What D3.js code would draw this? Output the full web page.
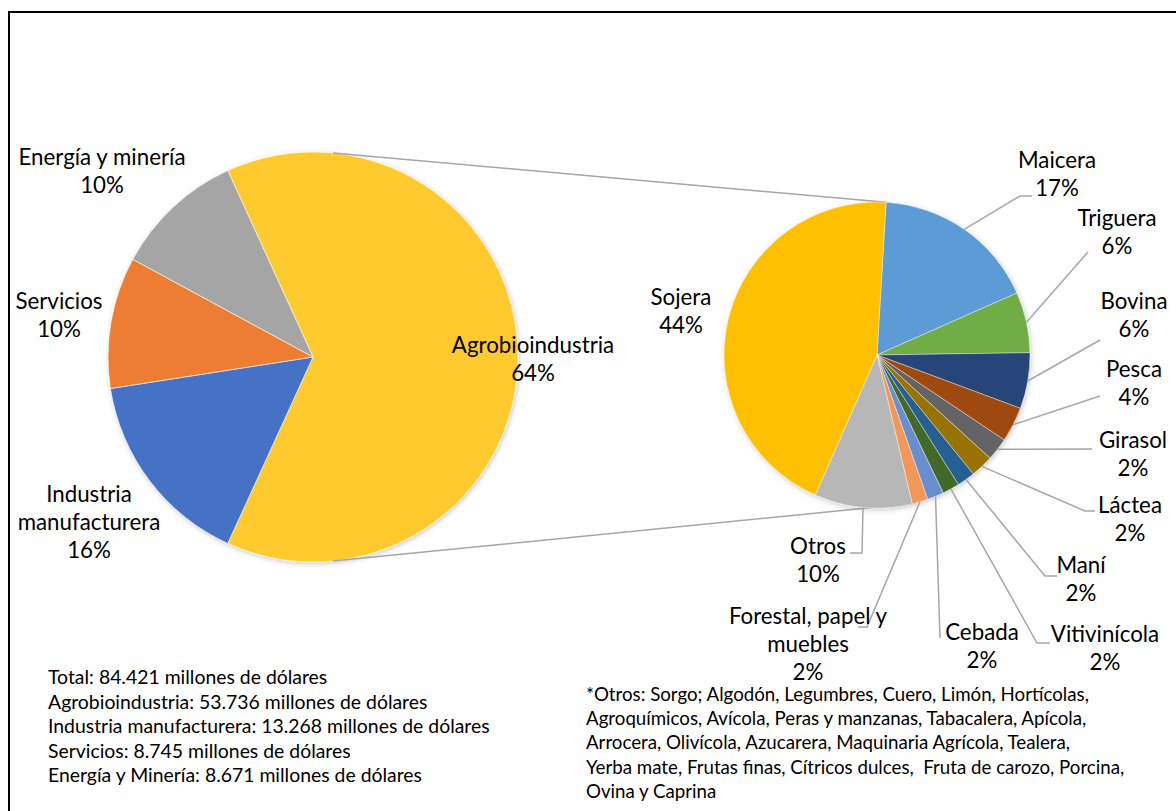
<!DOCTYPE html>
<html>
<head>
<meta charset="utf-8">
<script src="https://cdn.jsdelivr.net/npm/d3@7"></script>
<style>
  body { margin: 0; background: #fff; }
  text { font-family: Lato, "Open Sans", sans-serif; fill: #000; }
</style>
</head>
<body>
<script>
var width = 1176;
var height = 811;

// main pie
var mainCategories = ["Agrobioindustria", "Industria manufacturera", "Servicios", "Energía y minería"];
var mainValues = [53736, 13268, 8745, 8671];
var mainColors = ["#FFCA2F", "#4472C4", "#ED7D31", "#A5A5A5"];

// agrobioindustria breakdown
var subCategories = ["Maicera", "Triguera", "Bovina", "Pesca", "Girasol", "Láctea", "Maní",
                     "Vitivinícola", "Cebada", "Forestal, papel y muebles", "Otros", "Sojera"];
var subValues = [17.4, 6.4, 5.9, 3.7, 2.4, 2.4, 1.9, 1.8, 1.75, 1.67, 10.3, 44.3];
var subColors = ["#5B9BD5", "#70AD47", "#264478", "#9E480E", "#636363", "#997300", "#255E91",
                 "#43682B", "#698ED0", "#F1975A", "#B7B7B7", "#FFC000"];

var totalsText = [
  "Total: 84.421 millones de dólares",
  "Agrobioindustria: 53.736 millones de dólares",
  "Industria manufacturera: 13.268 millones de dólares",
  "Servicios: 8.745 millones de dólares",
  "Energía y Minería: 8.671 millones de dólares"
];
var noteText = [
  "*Otros: Sorgo; Algodón, Legumbres, Cuero, Limón, Hortícolas,",
  "Agroquímicos, Avícola, Peras y manzanas, Tabacalera, Apícola,",
  "Arrocera, Olivícola, Azucarera, Maquinaria Agrícola, Tealera,",
  "Yerba mate, Frutas finas, Cítricos dulces,  Fruta de carozo, Porcina,",
  "Ovina y Caprina"
];

// layout
var deg = Math.PI / 180;
var left = { cx: 313, cy: 357, r: 205 };
var right = { cx: 877, cy: 355, r: 153 };

// label lines: [x, y] of first line baseline, line names
var mainLabelPos = [[533, 353], [89, 502], [59, 309], [102, 165]];
var mainLabelLines = [["Agrobioindustria"], ["Industria", "manufacturera"], ["Servicios"], ["Energía y minería"]];

var subLabelPos = [[1057, 168], [1117, 226], [1134, 309], [1134, 377], [1133, 448], [1130, 513],
                   [1081, 573], [1105, 642], [982, 640], [808, 624], [818, 554], [681, 305]];
var subLabelLines = [["Maicera"], ["Triguera"], ["Bovina"], ["Pesca"], ["Girasol"], ["Láctea"], ["Maní"],
                     ["Vitivinícola"], ["Cebada"], ["Forestal, papel y", "muebles"], ["Otros"], ["Sojera"]];
// leader ends (null = no leader)
var subLeaders = [
  [[1020, 196], [1032, 196]],
  [[1088, 252]],
  [[1100, 340]],
  [[1100, 396]],
  [[1092, 449]],
  [[1085, 511], [1095, 511]],
  [[1045, 576], [1057, 576]],
  [[1037, 643], [1050, 643]],
  [[940, 638]],
  [[867, 627], [858, 627]],
  [[862, 553], [850, 553]],
  null
];

var svg = d3.select("body")
            .append("svg")
            .attr("width", width)
            .attr("height", height);

var defs = svg.append("defs");
var filt = defs.append("filter").attr("id", "sh")
  .attr("x", "-10%").attr("y", "-10%").attr("width", "120%").attr("height", "120%");
filt.append("feDropShadow").attr("dx", 1).attr("dy", 1.5).attr("stdDeviation", 2.5)
  .attr("flood-color", "#000").attr("flood-opacity", 0.22);

svg.append("rect")
   .attr("x", 9).attr("y", 12)
   .attr("width", 1300).attr("height", 1000)
   .attr("fill", "none")
   .attr("stroke", "#000")
   .attr("stroke-width", 2);

var fmt = d3.format(".0%");

// ---- main pie
var mainSum = d3.sum(mainValues);
var mainStart = 90 * deg - (mainValues[0] / mainSum) * Math.PI;
var pieMain = d3.pie().sort(null)
                .startAngle(mainStart).endAngle(mainStart + 2 * Math.PI);
var arcMain = d3.arc().innerRadius(0).outerRadius(left.r);

var gL = svg.append("g").attr("transform", "translate(" + left.cx + "," + left.cy + ")");
gL.append("g").attr("filter", "url(#sh)")
  .selectAll("path")
  .data(pieMain(mainValues))
  .enter()
  .append("path")
  .attr("d", arcMain)
  .attr("fill", function(d, i) { return mainColors[i]; })
  .attr("stroke", "#fff")
  .attr("stroke-width", 0.6);

// ---- secondary pie
var subSum = d3.sum(subValues);
var subStart = 3.4 * deg;
var pieSub = d3.pie().sort(null)
               .startAngle(subStart).endAngle(subStart + 2 * Math.PI);
var arcSub = d3.arc().innerRadius(0).outerRadius(right.r);
var subArcs = pieSub(subValues);

// connector lines between pies
function onCircle(c, a, rr) {
  return [c.cx + (rr || c.r) * Math.sin(a), c.cy - (rr || c.r) * Math.cos(a)];
}
var topL = onCircle(left, 5.6 * deg), botL = onCircle(left, 174.5 * deg);
var topR = onCircle(right, subArcs[0].startAngle);
var botR = onCircle(right, subArcs[subArcs.length - 2].startAngle - 1 * deg);
svg.append("path")
   .attr("d", d3.line()([topL, topR]))
   .attr("stroke", "#A6A6A6").attr("stroke-width", 1.5).attr("fill", "none");
svg.append("path")
   .attr("d", d3.line()([botL, botR]))
   .attr("stroke", "#A6A6A6").attr("stroke-width", 1.5).attr("fill", "none");

var gR = svg.append("g").attr("transform", "translate(" + right.cx + "," + right.cy + ")");
gR.append("g").attr("filter", "url(#sh)")
  .selectAll("path")
  .data(subArcs)
  .enter()
  .append("path")
  .attr("d", arcSub)
  .attr("fill", function(d, i) { return subColors[i]; })
  .attr("stroke", "#fff")
  .attr("stroke-width", 0.4);

// leader lines
subArcs.forEach(function(d, i) {
  if (!subLeaders[i]) return;
  var mid = (d.startAngle + d.endAngle) / 2;
  var pts = [onCircle(right, mid)].concat(subLeaders[i]);
  svg.append("path")
     .attr("d", d3.line()(pts))
     .attr("stroke", "#A6A6A6")
     .attr("stroke-width", 1.5)
     .attr("fill", "none");
});

var lineH = 28;
var fontSize = 22.3;

function drawLabel(pos, lines, pct) {
  var t = svg.append("text")
             .attr("text-anchor", "middle")
             .attr("font-size", fontSize);
  lines.concat([pct]).forEach(function(s, k) {
    t.append("tspan")
     .attr("x", pos[0])
     .attr("y", pos[1] + k * lineH)
     .text(s);
  });
}

pieMain(mainValues).forEach(function(d, i) {
  drawLabel(mainLabelPos[i], mainLabelLines[i], fmt(d.value / mainSum));
});
subArcs.forEach(function(d, i) {
  drawLabel(subLabelPos[i], subLabelLines[i], fmt(d.value / subSum));
});

// notes
svg.append("g").selectAll("text")
   .data(totalsText)
   .enter()
   .append("text")
   .attr("x", 48)
   .attr("y", function(d, i) { return 684 + i * 24.5; })
   .attr("font-size", 19.4)
   .text(function(d) { return d; });

svg.append("g").selectAll("text")
   .data(noteText)
   .enter()
   .append("text")
   .attr("x", 586)
   .attr("y", function(d, i) { return 701 + i * 24.2; })
   .attr("font-size", 18.7)
   .attr("xml:space", "preserve")
   .text(function(d) { return d; });
</script>
</body>
</html>
